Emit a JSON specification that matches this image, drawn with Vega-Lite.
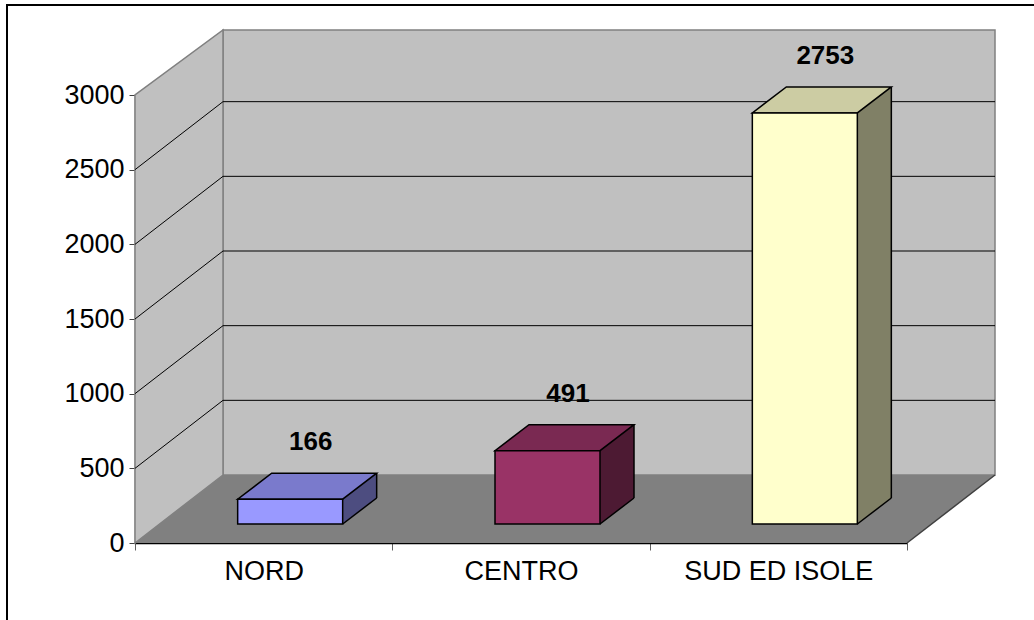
{
  "$schema": "https://vega.github.io/schema/vega-lite/v6.json",
  "width": 772,
  "height": 448,
  "autosize": {"type": "none"},
  "padding": {"left": 135, "top": 95, "right": 127, "bottom": 77},
  "background": "white",
  "config": {
    "view": {"stroke": null},
    "axis": {"labelFont": "Liberation Sans", "labelFontSize": 27, "labelColor": "black", "grid": false}
  },
  "datasets": {
    "bars": [
      {"region": "NORD", "value": 166},
      {"region": "CENTRO", "value": 491},
      {"region": "SUD ED ISOLE", "value": 2753}
    ],
    "grid": [{"v": 500}, {"v": 1000}, {"v": 1500}, {"v": 2000}, {"v": 2500}],
    "one": [{}]
  },
  "data": {"name": "bars"},
  "layer": [
    {
      "data": {"name": "one"},
      "mark": {"type": "point", "shape": "M-514,80 L-514,-538 L525,-538", "size": 4, "filled": false, "stroke": "black", "strokeWidth": 2, "opacity": 1},
      "encoding": {"x": {"datum": "CENTRO", "type": "nominal"}, "y": {"datum": 0, "type": "quantitative"}}
    },
    {
      "data": {"name": "one"},
      "mark": {"type": "point", "shape": "M-298,-68 L474,-68 L474,-513 L-298,-513 Z", "size": 4, "filled": true, "fill": "#C0C0C0", "stroke": "#808080", "strokeWidth": 1.5, "opacity": 1},
      "encoding": {"x": {"datum": "CENTRO", "type": "nominal"}, "y": {"datum": 0, "type": "quantitative"}}
    },
    {
      "data": {"name": "one"},
      "mark": {"type": "point", "shape": "M-386,0 L-298,-68 L-298,-513 L-386,-448 Z", "size": 4, "filled": true, "fill": "#C0C0C0", "stroke": "#808080", "strokeWidth": 1.5, "opacity": 1},
      "encoding": {"x": {"datum": "CENTRO", "type": "nominal"}, "y": {"datum": 0, "type": "quantitative"}}
    },
    {
      "data": {"name": "one"},
      "mark": {"type": "point", "shape": "M-386,0 L386,0 L474,-68 L-298,-68 Z", "size": 4, "filled": true, "fill": "#808080", "strokeWidth": 0, "opacity": 1},
      "encoding": {"x": {"datum": "CENTRO", "type": "nominal"}, "y": {"datum": 0, "type": "quantitative"}}
    },
    {
      "data": {"name": "one"},
      "mark": {"type": "point", "shape": "M386,0 L474,-68", "size": 4, "filled": false, "stroke": "#404040", "strokeWidth": 1.5, "opacity": 1},
      "encoding": {"x": {"datum": "CENTRO", "type": "nominal"}, "y": {"datum": 0, "type": "quantitative"}}
    },
    {
      "data": {"name": "grid"},
      "mark": {"type": "point", "shape": "M-386,0 L-298,-68 L474,-68", "size": 4, "filled": false, "stroke": "black", "strokeWidth": 1, "opacity": 1},
      "encoding": {"x": {"datum": "CENTRO", "type": "nominal"}, "y": {"field": "v", "type": "quantitative", "title": null}}
    },
    {
      "mark": {"type": "bar", "width": 34, "xOffset": 96, "yOffset": -45, "y2Offset": -19, "strokeWidth": 0},
      "encoding": {
        "x": {"field": "region", "type": "nominal", "title": null},
        "y": {"field": "value", "type": "quantitative", "title": null},
        "y2": {"datum": 0},
        "fill": {"field": "region", "type": "nominal", "legend": null, "scale": {"domain": ["NORD", "CENTRO", "SUD ED ISOLE"], "range": ["#4D4D80", "#4D1A33", "#808066"]}}
      }
    },
    {
      "mark": {"type": "point", "shape": "M79,-19 L114,-19 L114,-45.5 Z", "size": 4, "filled": true, "fill": "#808080", "strokeWidth": 0, "opacity": 1},
      "encoding": {"x": {"field": "region", "type": "nominal", "title": null}, "y": {"datum": 0, "type": "quantitative"}}
    },
    {
      "mark": {"type": "rule", "xOffset": 113, "yOffset": -45, "y2Offset": -45, "stroke": "black", "strokeWidth": 1.5},
      "encoding": {
        "x": {"field": "region", "type": "nominal", "title": null},
        "y": {"field": "value", "type": "quantitative", "title": null},
        "y2": {"datum": 0}
      }
    },
    {
      "mark": {"type": "point", "shape": "M79,-19 L113,-45", "size": 4, "filled": false, "stroke": "black", "strokeWidth": 1.5, "opacity": 1},
      "encoding": {"x": {"field": "region", "type": "nominal", "title": null}, "y": {"datum": 0, "type": "quantitative"}}
    },
    {
      "mark": {"type": "point", "shape": "M-26,-19 L79,-19 L113,-45 L8,-45 Z", "size": 4, "filled": true, "stroke": "black", "strokeWidth": 1.5, "opacity": 1},
      "encoding": {
        "x": {"field": "region", "type": "nominal", "title": null},
        "y": {"field": "value", "type": "quantitative", "title": null},
        "fill": {"field": "region", "type": "nominal", "legend": null, "scale": {"domain": ["NORD", "CENTRO", "SUD ED ISOLE"], "range": ["#7A7ACC", "#7A2952", "#CCCCA3"]}}
      }
    },
    {
      "mark": {"type": "bar", "width": 105, "xOffset": 26.5, "yOffset": -19, "y2Offset": -19, "stroke": "black", "strokeWidth": 1.5},
      "encoding": {
        "x": {"field": "region", "type": "nominal", "title": null, "sort": null,
          "scale": {"type": "band", "domain": ["NORD", "CENTRO", "SUD ED ISOLE"], "paddingInner": 0, "paddingOuter": 0},
          "axis": {"labelAngle": 0, "labelAlign": "center", "labelLimit": 0, "labelBound": false, "labelOverlap": false, "tickBand": "extent", "tickSize": 7, "tickColor": "#606060", "domainColor": "black", "domainWidth": 1.5, "labelPadding": 21, "labelFont": "Liberation Sans", "labelFontSize": 27}},
        "y": {"field": "value", "type": "quantitative", "title": null,
          "scale": {"domain": [0, 3000], "nice": false},
          "axis": {"values": [0, 500, 1000, 1500, 2000, 2500, 3000], "format": "d", "tickSize": 6, "tickColor": "#404040", "domainColor": "#404040", "domainWidth": 1.5, "labelPadding": 5, "labelFont": "Liberation Sans", "labelFontSize": 27}},
        "y2": {"datum": 0},
        "fill": {"field": "region", "type": "nominal", "legend": null, "scale": {"domain": ["NORD", "CENTRO", "SUD ED ISOLE"], "range": ["#9999FF", "#993366", "#FFFFCC"]}}
      }
    },
    {
      "mark": {"type": "text", "xOffset": 47, "yOffset": -76, "font": "Liberation Sans", "fontSize": 26, "fontWeight": "bold", "color": "black", "baseline": "middle", "align": "center"},
      "encoding": {
        "x": {"field": "region", "type": "nominal", "title": null},
        "y": {"field": "value", "type": "quantitative", "title": null},
        "text": {"field": "value", "type": "quantitative"}
      }
    }
  ],
  "resolve": {"scale": {"fill": "independent"}}
}
